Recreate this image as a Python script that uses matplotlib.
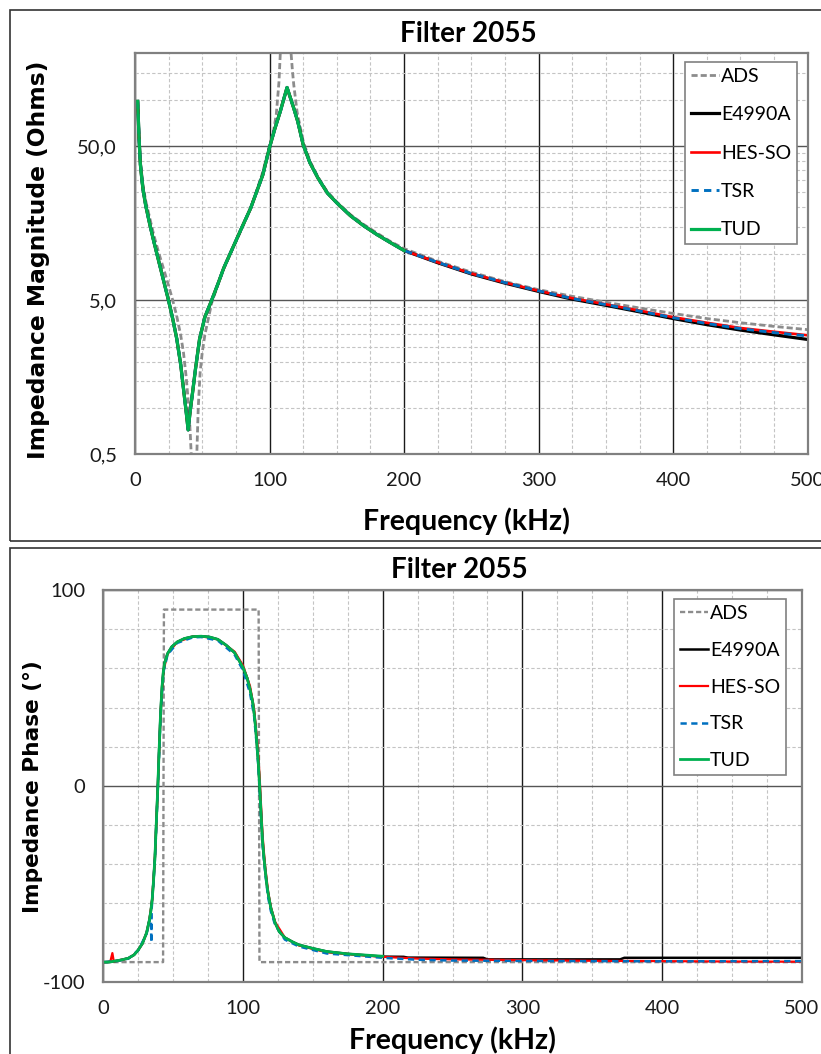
import matplotlib
matplotlib.use('Agg')
import matplotlib.pyplot as plt
from matplotlib.ticker import FixedLocator, NullFormatter, FixedFormatter
from matplotlib.patches import Rectangle

# ---------------- data: impedance magnitude ----------------
SERIES = ['ADS', 'E4990A', 'HES-SO', 'TSR', 'TUD']
COLORS = {'ADS': '#8c8c8c', 'E4990A': '#000000', 'HES-SO': '#ff0000',
          'TSR': '#0070c0', 'TUD': '#00b050'}

f_mag = [2, 3, 4, 5, 6, 8, 11, 14, 18, 22, 25, 28, 31, 34, 36, 38, 39.5, 41, 43, 45,
         48, 52, 57, 62, 66, 70, 76, 80, 86, 90, 95, 100, 104, 108, 111, 113, 115, 118,
         121, 125, 130, 136, 143, 150, 160, 170, 180, 190, 200,
         225, 250, 275, 300, 325, 350, 375, 400, 425, 450, 475, 500]

mag_low = [97.5, 56, 38, 31, 26, 20.5, 15.5, 12, 8.7, 6.3, 4.95, 3.8, 2.82, 1.9, 1.34,
           0.95, 0.72, 0.95, 1.3, 1.8, 2.8, 3.9, 5.0, 6.5, 8.1, 9.7, 12.7, 15.2, 19.8,
           24.7, 32.5, 49, 65, 84, 104, 120, 106, 88, 72, 51, 39, 31, 24.8, 21.4, 17.7,
           15.2, 13.3, 11.8, 10.5]

mag_e4990a = mag_low + [8.75, 7.4, 6.45, 5.7, 5.08, 4.63, 4.2, 3.8, 3.47, 3.2, 2.98, 2.78]
mag_hesso = mag_low + [8.8, 7.45, 6.5, 5.75, 5.15, 4.7, 4.28, 3.88, 3.57, 3.3, 3.12, 2.96]
mag_tsr = mag_low + [8.8, 7.45, 6.5, 5.75, 5.13, 4.68, 4.25, 3.85, 3.53, 3.27, 3.08, 2.93]
f_mag_tud = f_mag[:49]
mag_tud = mag_low

f_mag_ads = [2, 3, 4, 6, 8, 11, 14, 18, 22, 25, 28, 31, 34, 36, 38, 40, 41, 42, 43.5,
             45, 46, 47, 48.4, 50, 52, 57, 62, 66, 70, 76, 80, 86, 90, 95, 100, 103,
             105, 107, 108, 110, 112, 114, 116, 117, 118, 120.5, 125, 130, 136, 143,
             150, 160, 170, 180, 190, 200, 225, 250, 275, 300, 325, 350, 375, 400,
             425, 450, 475, 500]
mag_ads = [99, 58, 40, 27.5, 22, 17, 13.2, 9.9, 7.6, 6.2, 5.0, 3.95, 2.95, 2.3, 1.6,
           1.0, 0.7, 0.46, 0.2, 0.38, 0.52, 1.0, 1.7, 2.3, 3.0, 4.8, 6.45, 8.0, 9.6,
           12.5, 15.0, 19.8, 25, 34, 50, 63, 80, 130, 200, 400, 1500, 450, 200, 155,
           125, 83, 54, 40, 31.5, 25.2, 21.7, 18, 15.5, 13.6, 12.0, 10.8, 8.95, 7.6,
           6.6, 5.85, 5.3, 4.85, 4.45, 4.1, 3.8, 3.57, 3.38, 3.22]

# ---------------- data: impedance phase ----------------
f_ph = [1, 3, 6, 8, 10, 14, 18, 22, 25, 28, 31, 33, 34, 35, 36, 37, 38, 39, 40, 41, 42,
        43, 44, 46, 49, 53, 58, 64, 70, 76, 82, 88, 94, 100, 103, 105, 107, 108, 109,
        110, 111, 112, 113, 114, 115, 116, 117, 118, 120, 123, 126, 130, 135, 140, 150,
        160, 175, 200]
ph_low = [-90, -90, -89.8, -89.5, -89.3, -88.7, -88, -86.3, -83.8, -80.5, -75, -68.5,
          -64, -58, -48, -36, -18, -1, 19, 37, 50, 58.5, 63, 67.5, 71, 73.5, 75.2, 76.2,
          76.4, 76.0, 74.8, 71.8, 68, 60.5, 55, 49.5, 42.5, 37, 30, 21, 11.5, -1, -15,
          -28, -36.5, -43.5, -50, -55, -62.5, -70, -74.5, -77.5, -79.5, -81.2, -83,
          -84.6, -85.8, -87.0]

f_ph_tud = f_ph
ph_tud = ph_low

f_ph_e4990a = f_ph + [215, 218, 272, 275, 370, 373, 500]
ph_e4990a = ph_low[:-1] + [-87.2, -87.3, -87.7, -87.8, -88.6, -88.6, -87.8, -87.8]

f_ph_hesso = [1, 5, 6.5, 7.5, 10, 14, 18, 22, 25, 28, 31, 33, 35, 37, 39, 41, 43, 46,
              53, 64, 70, 82, 94, 100, 105, 108, 110, 111, 112, 113, 114, 115, 116, 118,
              120, 123, 130, 140, 160, 200, 225, 250, 300, 350, 400, 450, 500]
ph_hesso = [-90, -89.8, -85.4, -89.7, -89.3, -88.7, -88, -86.3, -83.8, -80.5, -75, -68.5,
            -58, -36, -1, 37, 58.5, 67.5, 73.5, 76.2, 76.4, 74.8, 68.5, 61.5, 51, 39,
            24, 15, 3.5, -11, -25, -34, -42, -54, -62, -69.5, -77.5, -81.5, -85, -87.3,
            -88.2, -88.6, -89.0, -89.3, -89.5, -89.7, -89.8]

f_ph_tsr = [1, 10, 18, 25, 31, 33, 34, 34.4, 34.6, 35, 37, 39, 41, 43, 46, 53, 64, 70,
            82, 94, 100, 105, 108, 110, 111, 112, 113, 114, 116, 118, 120, 123, 130, 140,
            160, 200, 225, 250, 300, 400, 500]
ph_tsr = [-90, -89.4, -88.2, -84, -75.5, -69, -65, -80, -63, -59, -37, -2, 36, 58, 67,
          73, 75.8, 76.0, 74.2, 67, 59, 47.5, 35.5, 19.5, 10, -2.5, -17, -30, -45, -57,
          -64, -71, -78.5, -82, -85.6, -87.8, -88.8, -89.2, -89.4, -89.6, -89.5]

f_ph_ads = [1.5, 42.8, 43.4, 111.2, 111.8, 500]
ph_ads = [-90, -90, 90, 90, -90, -90]

# ---------------- axis setup ----------------
X_MAJOR = [0, 100, 200, 300, 400, 500]
X_MINOR = [25, 50, 75, 125, 150, 175, 225, 250, 275, 325, 350, 375, 425, 450, 475]
MAG_MAJOR = [0.5, 5, 50]
MAG_LABELS = ['0,5', '5,0', '50,0']
MAG_MINOR = [1, 1.5, 2, 2.5, 3, 3.5, 4, 4.5, 10, 15, 20, 25, 30, 35, 40, 45, 100, 150]
PH_MAJOR = [-100, 0, 100]
PH_LABELS = ['-100', '0', '100']
PH_MINOR = [-80, -60, -40, -20, 20, 40, 60, 80]

W, H = 821, 1054
fig = plt.figure(figsize=(W / 100, H / 100), dpi=100)


def rect(l, t, r, b):
    return [l / W, 1 - b / H, (r - l) / W, (b - t) / H]


FONT = ['Lato', 'DejaVu Sans']

ax1 = fig.add_axes(rect(135, 53.3, 807.7, 454.3))
ax2 = fig.add_axes(rect(103.3, 590, 801.7, 981.7))

for ax in (ax1, ax2):
    ax.set_xlim(0, 500)
    ax.xaxis.set_major_locator(FixedLocator(X_MAJOR))
    ax.xaxis.set_minor_locator(FixedLocator(X_MINOR))
    ax.xaxis.set_minor_formatter(NullFormatter())
    ax.tick_params(which='both', length=0, labelsize=14.5, pad=13)
    ax.grid(which='minor', color='#c4c4c4', lw=0.8, ls=(0, (3, 2)))
    ax.xaxis.grid(True, which='major', color='#1a1a1a', lw=1.0)
    ax.yaxis.grid(True, which='major', color='#555555', lw=1.0)
    ax.set_axisbelow(True)
    for s in ax.spines.values():
        s.set_color('#808080')
        s.set_linewidth(1.6)

ax1.set_yscale('log')
ax1.set_ylim(0.5, 200)
ax1.yaxis.set_major_locator(FixedLocator(MAG_MAJOR))
ax1.yaxis.set_major_formatter(FixedFormatter(MAG_LABELS))
ax1.yaxis.set_minor_locator(FixedLocator(MAG_MINOR))
ax1.yaxis.set_minor_formatter(NullFormatter())
ax1.yaxis.grid(True, which='major', color='#555555', lw=1.0)
ax1.yaxis.grid(True, which='minor', color='#c4c4c4', lw=0.8, ls=(0, (3, 2)))

ax2.set_ylim(-100, 100)
ax2.yaxis.set_major_locator(FixedLocator(PH_MAJOR))
ax2.yaxis.set_major_formatter(FixedFormatter(PH_LABELS))
ax2.yaxis.set_minor_locator(FixedLocator(PH_MINOR))
ax2.yaxis.set_minor_formatter(NullFormatter())

for ax in (ax1, ax2):
    for lab in ax.get_xticklabels() + ax.get_yticklabels():
        lab.set_family(FONT)
        lab.set_color('#1a1a1a')

# ---------------- curves ----------------
ax1.plot(f_mag_ads, mag_ads, color=COLORS['ADS'], lw=2.0, ls=(0, (2.2, 1.1)), label='ADS')
ax1.plot(f_mag, mag_e4990a, color=COLORS['E4990A'], lw=2.3, label='E4990A')
ax1.plot(f_mag, mag_hesso, color=COLORS['HES-SO'], lw=1.9, label='HES-SO')
ax1.plot(f_mag, mag_tsr, color=COLORS['TSR'], lw=2.1, ls=(0, (2.5, 1.8)), label='TSR')
ax1.plot(f_mag_tud, mag_tud, color=COLORS['TUD'], lw=2.3, label='TUD')

ax2.plot(f_ph_ads, ph_ads, color=COLORS['ADS'], lw=1.7, ls=(0, (2.2, 1.2)), label='ADS')
ax2.plot(f_ph_e4990a, ph_e4990a, color=COLORS['E4990A'], lw=1.8, label='E4990A')
ax2.plot(f_ph_hesso, ph_hesso, color=COLORS['HES-SO'], lw=1.6, label='HES-SO')
ax2.plot(f_ph_tsr, ph_tsr, color=COLORS['TSR'], lw=1.8, ls=(0, (2.5, 1.8)), label='TSR')
ax2.plot(f_ph_tud, ph_tud, color=COLORS['TUD'], lw=2.0, label='TUD')

# ---------------- legends ----------------
leg_kw = dict(prop={'family': FONT, 'size': 14}, frameon=True, fancybox=False,
              edgecolor='#808080', framealpha=1, handlelength=1.45, handletextpad=0.12,
              borderaxespad=0, borderpad=0.3)
lg1 = ax1.legend(loc='upper right', bbox_to_anchor=(797 / W, 1 - 62 / H),
                 bbox_transform=fig.transFigure, labelspacing=1.1, **leg_kw)
lg2 = ax2.legend(loc='upper right', bbox_to_anchor=(786 / W, 1 - 599 / H),
                 bbox_transform=fig.transFigure, labelspacing=1.02, **leg_kw)
for lg in (lg1, lg2):
    lg.get_frame().set_linewidth(1.2)

# ---------------- texts ----------------
fig.text(468 / W, 1 - 34 / H, 'Filter 2055', family=FONT, weight='bold', size=20,
         ha='center', va='center')
fig.text(459 / W, 1 - 570 / H, 'Filter 2055', family=FONT, weight='bold', size=20,
         ha='center', va='center')
fig.text(466 / W, 1 - 521 / H, 'Frequency (kHz)', family=FONT, weight='bold', size=20.5,
         ha='center', va='center')
fig.text(452 / W, 1 - 1040 / H, 'Frequency (kHz)', family=FONT, weight='bold', size=20.5,
         ha='center', va='center')
fig.text(39 / W, 1 - 259.5 / H, 'Impedance Magnitude (Ohms)', family='DejaVu Sans',
         weight='bold', size=16.8, rotation=90, ha='center', va='center')
fig.text(33 / W, 1 - 787 / H, 'Impedance Phase (°)', family='DejaVu Sans',
         weight='bold', size=15.6, rotation=90, ha='center', va='center')

# ---------------- outer chart frames ----------------
fig.add_artist(Rectangle((10 / W, 1 - 541 / H), 830 / W, 531.5 / H,
                         transform=fig.transFigure, fill=False, ec='#333333', lw=1.2))
fig.add_artist(Rectangle((10 / W, -0.02), 830 / W, (1054 - 548) / H + 0.02,
                         transform=fig.transFigure, fill=False, ec='#333333', lw=1.2))

fig.savefig('out.png', dpi=100)
